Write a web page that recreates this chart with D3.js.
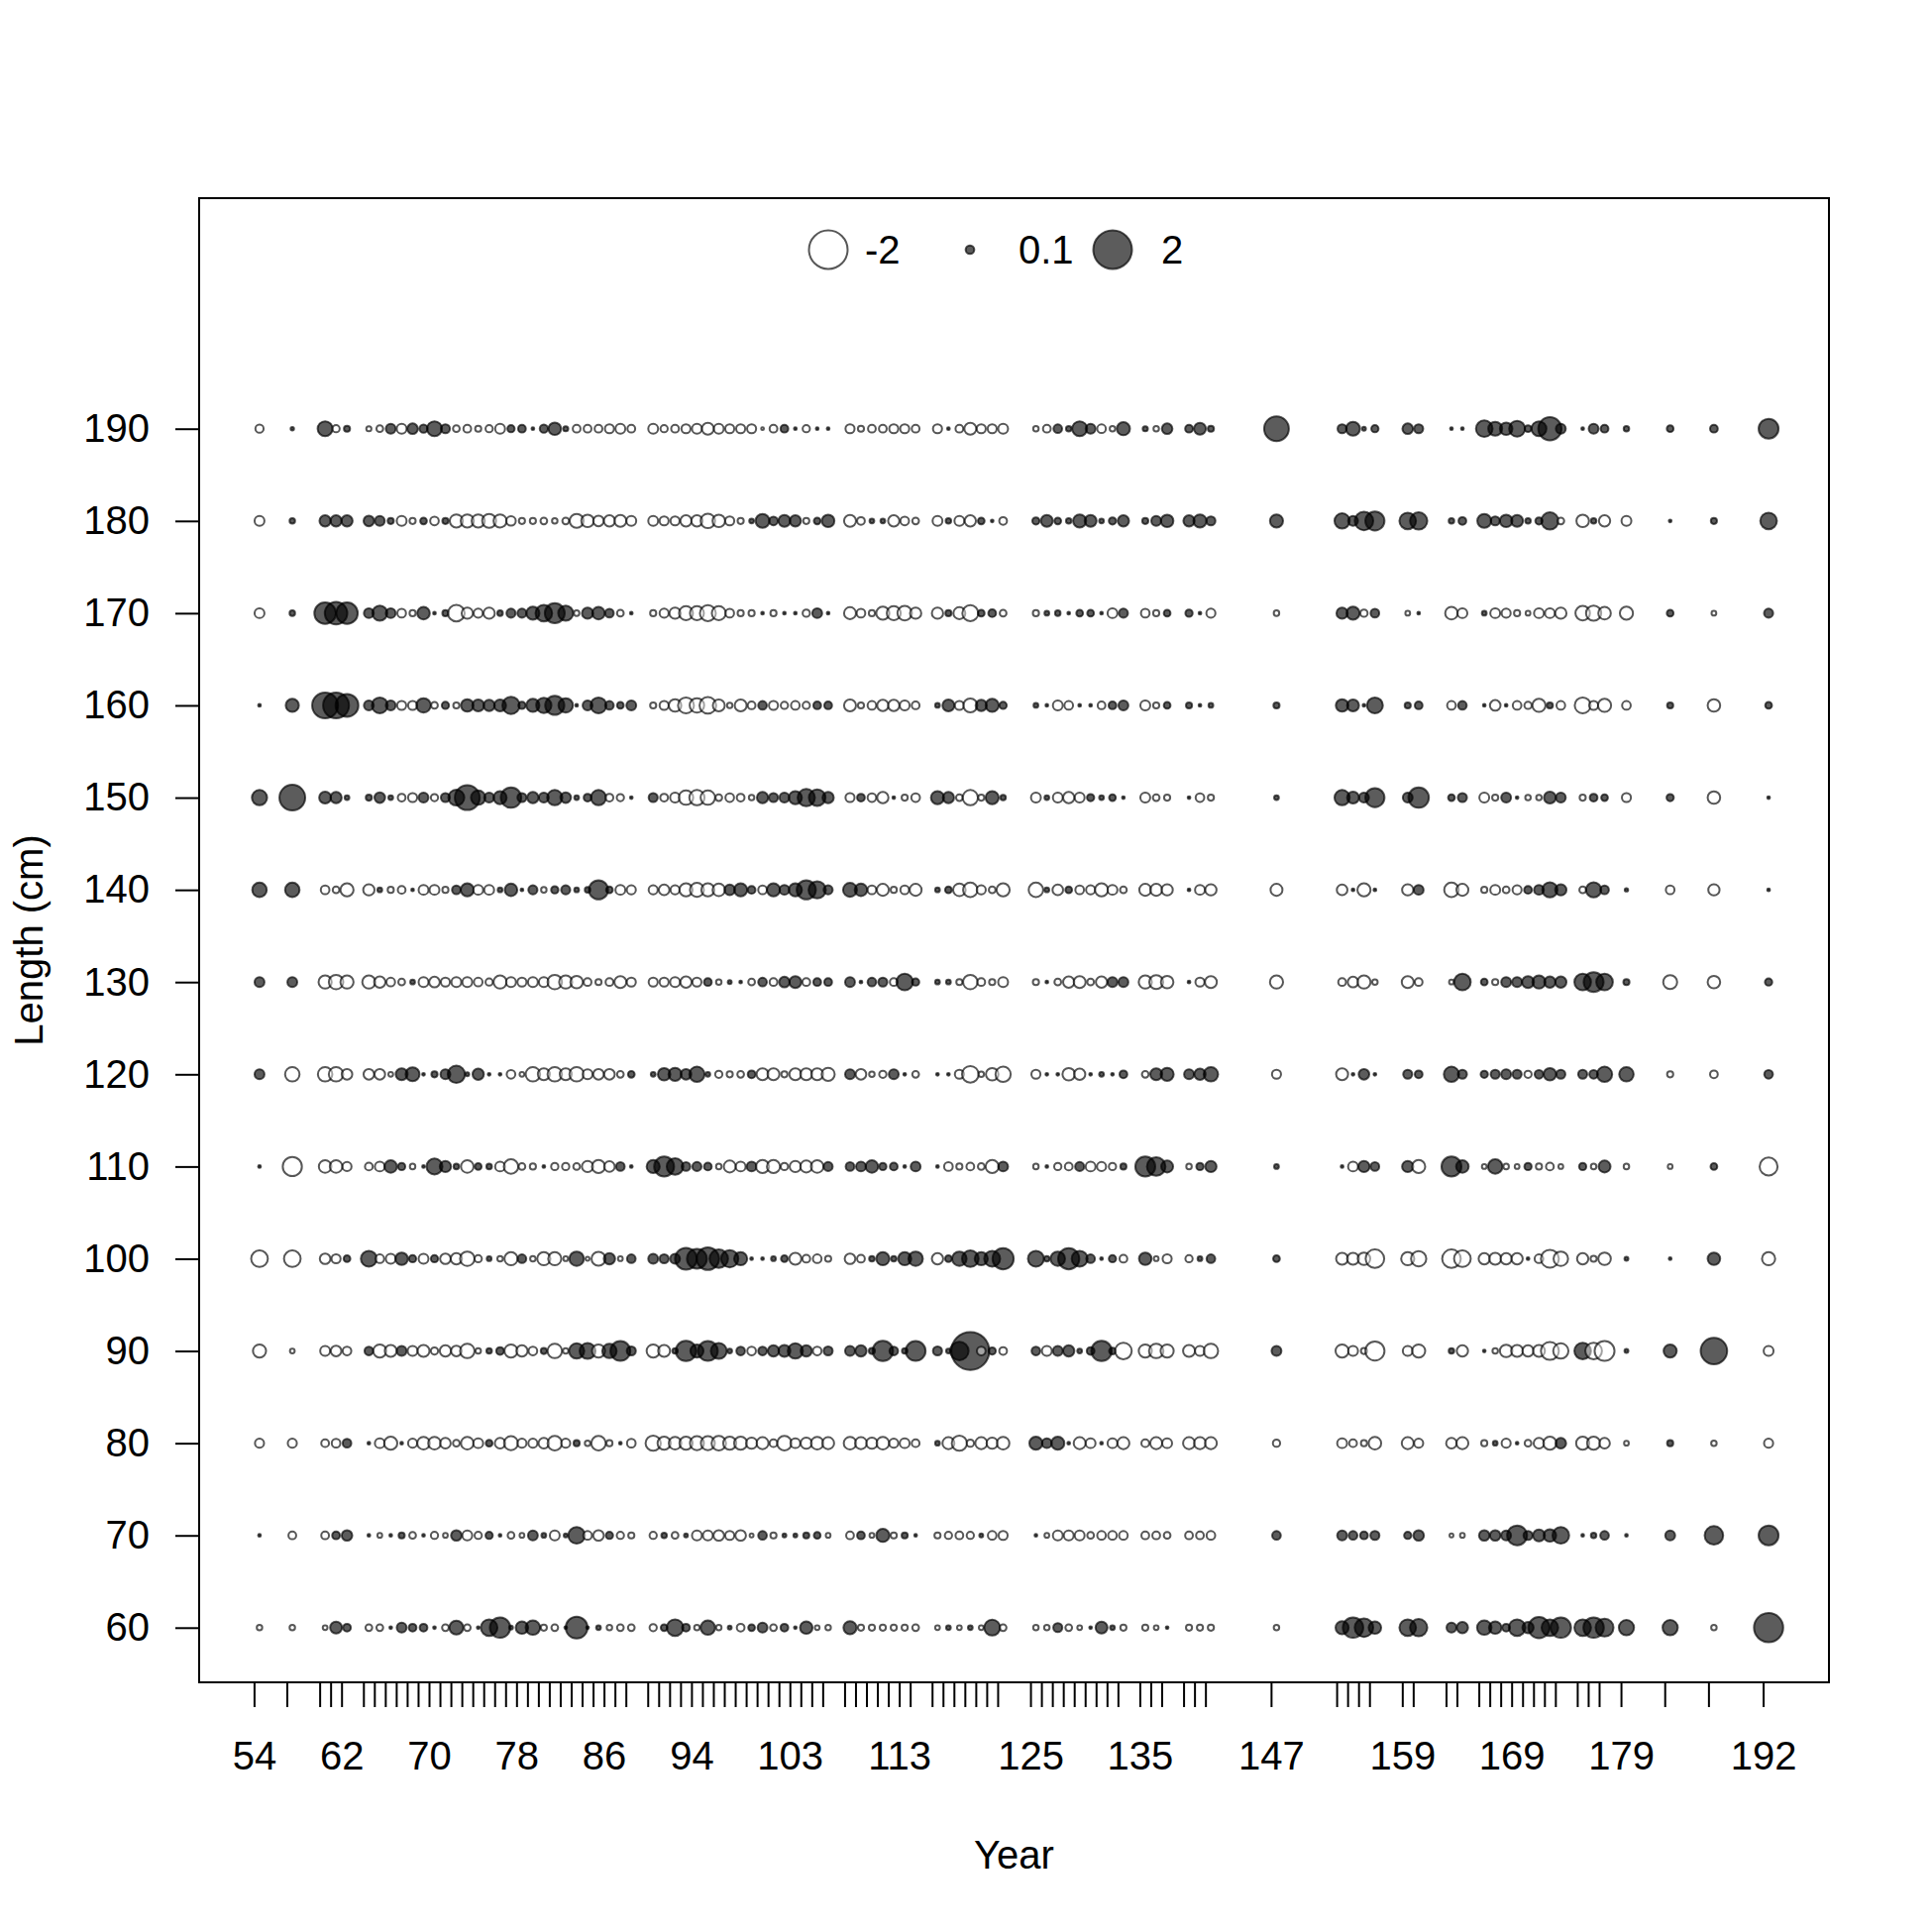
<!DOCTYPE html>
<html><head><meta charset="utf-8">
<script src="https://cdn.jsdelivr.net/npm/d3@7"></script>
<style>
html,body{margin:0;padding:0;background:#fff;}
</style></head><body>
<svg id="chart" width="1950" height="1950"></svg>
<script>
const years = [54,57,60,61,62,
64,65,66,67,68,69,70,71,72,73,74,75,76,77,78,79,80,81,82,83,84,85,86,87,88,
90,91,92,93,94,95,96,97,98,99,100,101,102,103,104,105,106,
108,109,110,111,112,113,114,
116,117,118,119,120,121,122,
125,126,127,128,129,130,131,132,133,
135,136,137,
139,140,141,
147,
153,154,155,156,
159,160,
163,164,
166,167,168,169,170,171,172,173,
175,176,177,
179,183,187,192];
const xLabelYears = [54,62,70,78,86,94,103,113,125,135,147,159,169,179,192];
const lengthBins = [60,70,80,90,100,110,120,130,140,150,160,170,180,190];
const yTickLabels = ["60","70","80","90","100","110","120","130","140","150","160","170","180","190"];

const len190 = [-0.09,0.015,0.3,-0.07,0.05,
-0.035,-0.06,0.13,-0.13,0.15,0.09,0.3,0.11,-0.06,-0.08,-0.05,-0.07,-0.13,0.07,0.08,0.01,0.09,0.21,0.035,-0.08,-0.08,-0.08,-0.11,-0.13,-0.08,
-0.13,-0.07,-0.08,-0.11,-0.13,-0.19,-0.13,-0.11,-0.11,-0.11,-0.01,-0.08,0.08,0.01,-0.07,0.01,0.01,
-0.11,-0.05,-0.08,-0.08,-0.11,-0.11,-0.08,
-0.11,0.01,-0.08,-0.19,-0.11,-0.11,-0.13,
-0.04,-0.08,0.1,0.04,0.3,0.13,-0.1,-0.04,0.23,
0.035,-0.04,0.15,
0.08,0.19,0.05,
0.82,
0.11,0.26,0.02,0.07,
0.15,0.11,
0.01,0.01,
0.37,0.26,0.21,0.34,0.06,0.3,0.72,0.13,
0.01,0.13,0.08,
0.04,0.06,0.08,0.53];

const len180 = [-0.13,0.04,0.17,0.17,0.17,
0.15,0.13,0.05,-0.13,-0.05,0.06,-0.1,0.05,-0.23,-0.23,-0.23,-0.26,-0.23,-0.12,-0.05,-0.05,-0.06,-0.04,-0.06,-0.26,-0.21,-0.15,-0.17,-0.19,-0.13,
-0.13,-0.11,-0.11,-0.17,-0.17,-0.28,-0.21,-0.11,-0.05,0.03,0.26,0.1,0.19,0.17,-0.05,0.06,0.21,
-0.19,-0.08,0.03,0.03,-0.17,-0.1,-0.06,
-0.13,0.04,-0.13,-0.17,0.06,0.01,-0.08,
0.07,0.19,0.06,0.04,0.23,0.19,0.03,0.07,0.17,
0.05,0.13,0.21,
0.17,0.23,0.11,
0.23,
0.31,0.13,0.46,0.49,
0.37,0.4,
0.04,0.08,
0.26,0.11,0.21,0.19,0.04,0.07,0.4,-0.06,
-0.21,0.04,-0.17,
-0.13,0.01,0.05,0.37];

const len170 = [-0.13,0.04,0.62,0.68,0.62,
0.13,0.3,0.13,-0.1,-0.05,0.21,0.01,0.05,-0.37,-0.17,-0.11,-0.17,0.04,0.11,0.11,0.23,0.37,0.53,0.3,-0.04,0.17,0.21,0.1,-0.06,0.01,
-0.05,-0.11,-0.17,-0.26,-0.26,-0.34,-0.26,-0.1,-0.05,-0.05,0.01,-0.05,0.01,0.01,-0.07,0.13,0.01,
-0.19,-0.1,-0.05,-0.23,-0.26,-0.28,-0.17,
-0.17,0.05,-0.19,-0.34,0.06,0.08,-0.06,
-0.05,0.03,0.04,0.01,0.06,0.06,0.01,-0.13,0.11,
-0.1,-0.05,0.06,
0.07,0.01,-0.11,
-0.04,
0.17,0.23,-0.07,0.1,
-0.03,0.01,
-0.21,-0.13,
0.03,-0.13,-0.11,-0.05,-0.03,-0.13,-0.13,-0.17,
-0.28,-0.31,-0.21,
-0.23,0.06,-0.03,0.11];

const len160 = [0.01,0.23,0.9,0.9,0.7,
0.13,0.34,0.13,-0.11,-0.11,0.28,-0.06,0.07,-0.05,0.21,0.19,0.17,0.19,0.4,0.07,0.23,0.31,0.49,0.28,0.01,0.13,0.34,0.1,0.06,0.13,
-0.05,-0.11,-0.21,-0.34,-0.28,-0.37,-0.19,-0.04,-0.19,-0.08,0.1,-0.11,-0.07,-0.1,-0.07,0.08,0.08,
-0.19,-0.05,-0.1,-0.17,-0.17,-0.13,-0.08,
0.03,0.19,-0.11,-0.26,0.17,0.23,0.07,
0.03,0.01,-0.13,-0.1,0.01,0.01,-0.08,0.08,0.13,
-0.13,-0.05,0.06,
0.05,0.01,0.03,
0.05,
0.21,0.19,0.01,0.34,
0.05,0.08,
-0.1,0.1,
0.01,-0.15,0.01,-0.1,-0.07,-0.23,0.05,-0.1,
-0.34,-0.11,-0.23,
-0.1,0.05,-0.21,0.06];

const len150 = [0.31,0.89,0.19,0.17,0.03,
0.05,0.15,0.03,-0.08,-0.11,0.13,-0.07,0.11,0.34,0.83,0.28,0.13,0.23,0.56,0.11,0.17,0.13,0.31,0.15,0.03,0.08,0.31,-0.08,-0.07,0.01,
0.11,-0.08,-0.13,-0.28,-0.31,-0.28,-0.06,-0.1,-0.08,-0.04,0.17,0.11,0.13,0.23,0.4,0.37,0.17,
-0.11,0.08,-0.1,-0.17,0.01,-0.05,-0.1,
0.23,0.17,-0.06,-0.31,-0.05,0.23,0.04,
-0.13,0.03,-0.13,-0.17,-0.13,0.07,0.03,0.06,0.01,
-0.13,-0.06,-0.05,
0.01,-0.1,-0.05,
0.03,
0.31,0.19,0.13,0.49,
0.13,0.56,
0.06,0.11,
-0.13,-0.05,0.13,0.01,-0.04,-0.04,0.19,0.13,
-0.05,0.08,0.06,
-0.11,0.07,-0.21,0.01];

const len140 = [0.28,0.28,-0.1,-0.06,-0.23,
-0.17,0.03,-0.05,-0.08,0.01,-0.13,-0.13,-0.05,0.1,0.23,-0.13,-0.13,0.03,0.21,0.01,0.11,-0.04,0.07,0.11,0.03,0.04,0.49,0.06,-0.13,-0.11,
-0.11,-0.15,-0.11,-0.23,-0.26,-0.23,-0.21,0.15,0.23,0.08,-0.1,0.23,0.13,0.23,0.49,0.4,0.11,
0.26,0.21,-0.1,-0.19,-0.05,-0.1,-0.19,
0.03,0.06,-0.21,-0.28,-0.11,-0.06,-0.23,
-0.28,0.03,-0.15,0.06,-0.1,-0.11,-0.23,-0.13,-0.06,
-0.19,-0.19,-0.17,
0.01,-0.13,-0.17,
-0.19,
-0.15,0.01,-0.23,0.01,
-0.17,0.13,
-0.28,-0.19,
-0.05,-0.13,-0.06,-0.11,0.08,0.13,0.31,0.17,
-0.06,0.31,0.1,
0.015,-0.1,-0.17,0.01];

const len130 = [0.13,0.13,-0.23,-0.28,-0.23,
-0.23,-0.17,-0.1,-0.06,0.03,-0.13,-0.15,-0.11,-0.13,-0.13,-0.1,-0.07,-0.23,-0.13,-0.11,-0.13,-0.13,-0.28,-0.23,-0.21,-0.08,-0.05,-0.08,-0.19,-0.11,
-0.11,-0.11,-0.13,-0.17,-0.11,0.08,-0.04,0.02,0.01,-0.06,0.1,-0.08,0.15,0.19,-0.08,0.08,0.08,
0.13,0.01,0.1,0.11,-0.08,0.37,0.07,
0.03,0.03,-0.05,-0.28,-0.08,-0.05,-0.13,
-0.05,0.01,-0.06,-0.17,-0.19,-0.06,-0.17,0.13,0.13,
-0.23,-0.26,-0.21,
0.01,-0.11,-0.19,
-0.23,
-0.08,-0.15,-0.23,-0.04,
-0.19,-0.08,
-0.03,0.37,
0.06,-0.05,0.13,0.13,0.19,0.23,0.17,0.17,
0.37,0.53,0.37,
0.05,-0.26,-0.21,0.07];

const len120 = [0.13,-0.28,-0.28,-0.28,-0.15,
-0.15,-0.15,-0.03,0.19,0.26,0.01,0.05,0.13,0.4,0.02,0.17,0.01,0.01,-0.1,-0.03,-0.28,-0.19,-0.28,-0.19,-0.28,-0.13,-0.15,-0.15,-0.06,0.06,
0.03,0.21,0.23,0.15,0.31,0.03,-0.07,-0.05,-0.06,0.08,-0.19,-0.19,-0.05,-0.19,-0.19,-0.19,-0.23,
0.13,-0.15,-0.04,-0.07,0.13,0.01,-0.06,
0.01,0.01,-0.11,-0.37,-0.04,-0.21,-0.31,
-0.11,0.01,0.01,-0.21,-0.17,0.01,0.03,0.01,0.08,
-0.06,0.19,0.23,
0.13,0.17,0.28,
-0.11,
-0.19,0.01,0.15,0.01,
0.11,0.08,
0.31,0.11,
0.07,0.11,0.13,0.11,-0.07,0.1,0.21,0.11,
0.11,0.1,0.31,
0.28,-0.05,-0.08,0.1];

const len110 = [0.01,-0.49,-0.21,-0.21,-0.11,
-0.08,-0.13,0.21,0.07,-0.04,0.01,0.34,0.17,0.04,-0.21,0.06,0.04,-0.13,-0.28,-0.06,-0.05,0.01,-0.07,-0.07,-0.06,-0.17,-0.23,-0.15,0.1,0.01,
0.23,0.53,0.37,0.1,0.11,0.08,-0.04,-0.19,-0.13,0.13,-0.23,-0.23,-0.07,-0.17,-0.19,-0.21,0.11,
0.1,0.13,0.21,0.07,0.08,0.01,0.13,
0.01,-0.1,-0.05,-0.08,-0.06,-0.23,0.13,
-0.04,0.01,-0.07,-0.08,0.11,-0.13,-0.11,-0.07,0.05,
0.53,0.46,0.19,
-0.04,0.07,0.17,
0.03,
0.01,-0.13,0.17,0.1,
0.17,-0.23,
0.53,0.21,
-0.03,0.28,-0.04,-0.03,0.07,-0.05,-0.08,-0.03,
0.07,-0.04,0.19,
-0.04,-0.03,0.06,-0.43];

const len100 = [-0.37,-0.37,-0.15,-0.11,0.06,
0.34,-0.1,-0.13,0.21,0.07,-0.13,0.07,-0.15,-0.17,-0.28,-0.07,0.03,-0.04,-0.23,0.1,-0.04,-0.23,-0.23,-0.03,0.28,-0.02,-0.26,0.17,-0.03,0.1,
0.13,0.11,0.13,0.64,0.53,0.68,0.46,0.4,0.23,0.01,0.01,0.03,0.06,-0.19,-0.08,-0.1,-0.05,
-0.15,-0.08,0.04,0.23,0.04,0.23,0.28,
-0.17,0.06,0.28,0.37,0.23,0.34,0.6,
0.34,0.04,0.28,0.6,0.34,0.1,0.01,0.07,-0.08,
0.21,-0.03,-0.11,
-0.07,0.03,0.1,
0.06,
-0.19,-0.19,-0.21,-0.46,
-0.23,-0.31,
-0.46,-0.37,
-0.17,-0.19,-0.17,-0.17,0.01,-0.1,-0.43,-0.28,
-0.17,-0.05,-0.21,
0.02,0.01,0.21,-0.23];

const len90 = [-0.23,-0.03,-0.13,-0.15,-0.1,
0.1,-0.23,-0.19,0.13,-0.13,-0.19,-0.07,-0.17,-0.15,-0.28,-0.04,0.04,0.08,-0.23,-0.17,-0.1,0.05,-0.28,-0.04,0.31,0.34,-0.23,0.28,0.53,0.11,
-0.23,-0.19,0.04,0.56,0.23,0.53,0.34,0.03,0.1,-0.1,0.1,0.17,0.19,0.31,0.17,-0.1,0.11,
0.13,0.17,0.05,0.56,0.1,0.04,0.53,
0.11,0.03,0.46,1.93,-0.1,0.07,-0.08,
0.1,-0.13,0.13,0.17,0.03,0.08,0.56,0.06,-0.37,
-0.23,-0.28,-0.23,
-0.19,-0.13,-0.28,
0.13,
-0.23,-0.13,-0.05,-0.49,
-0.13,-0.23,
0.04,-0.17,
0.01,-0.04,-0.21,-0.19,-0.17,-0.19,-0.43,-0.31,
0.37,-0.37,-0.53,
0.02,0.23,0.94,-0.13];

const len80 = [-0.11,-0.11,-0.08,-0.1,0.1,
0.01,-0.13,-0.23,0.01,-0.11,-0.21,-0.21,-0.15,-0.06,-0.21,-0.13,0.06,-0.15,-0.26,-0.11,-0.11,-0.15,-0.28,-0.11,0.05,-0.04,-0.28,-0.05,0.01,-0.1,
-0.31,-0.23,-0.21,-0.23,-0.26,-0.26,-0.28,-0.23,-0.23,-0.17,-0.19,-0.08,-0.28,-0.13,-0.17,-0.21,-0.19,
-0.21,-0.19,-0.17,-0.21,-0.11,-0.13,-0.08,
0.03,-0.19,-0.31,-0.07,-0.19,-0.17,-0.21,
0.23,0.13,0.23,0.01,-0.19,-0.13,0.01,-0.13,-0.19,
-0.08,-0.19,-0.13,
-0.19,-0.19,-0.19,
-0.07,
-0.13,-0.08,-0.05,-0.21,
-0.19,-0.11,
-0.15,-0.19,
-0.05,0.03,-0.11,0.01,-0.06,-0.15,-0.23,0.15,
-0.23,-0.23,-0.15,
-0.03,0.05,-0.04,-0.11];

const len70 = [0.01,-0.08,-0.08,0.08,0.15,
0.01,-0.03,0.01,0.05,-0.06,0.01,-0.07,-0.03,0.15,-0.13,-0.07,0.07,0.01,-0.06,-0.03,0.13,0.03,-0.13,0.02,0.37,-0.1,-0.15,0.07,-0.07,-0.05,
-0.07,0.04,-0.06,0.02,-0.13,-0.13,-0.15,-0.11,-0.15,-0.02,0.1,-0.05,0.02,0.02,0.05,0.06,-0.03,
-0.08,0.08,-0.03,0.23,-0.05,0.05,0.01,
-0.05,-0.07,-0.08,-0.07,0.02,-0.1,-0.11,
0.01,-0.03,-0.13,-0.13,-0.13,-0.06,-0.1,-0.1,-0.1,
-0.08,-0.08,-0.06,
-0.08,-0.08,-0.1,
0.1,
0.13,0.1,0.08,0.11,
0.07,0.15,
-0.02,-0.03,
0.15,0.15,0.13,0.53,0.11,0.19,0.21,0.37,
0.01,0.04,0.1,
0.01,0.13,0.46,0.53];

const len60 = [-0.04,-0.04,-0.03,0.19,0.08,
-0.06,-0.06,0.01,0.13,0.08,0.08,0.01,-0.06,0.26,-0.06,0.01,0.37,0.56,0.02,0.21,0.28,-0.05,-0.06,0.01,0.64,0.01,0.03,-0.04,-0.06,-0.06,
-0.07,0.06,0.37,0.08,-0.04,0.28,-0.04,0.02,-0.08,0.06,0.13,-0.06,0.08,0.01,0.21,-0.03,-0.04,
0.23,-0.05,-0.05,-0.05,-0.05,-0.05,-0.06,
-0.03,0.03,-0.03,0.03,-0.03,0.34,-0.06,
-0.04,-0.04,0.11,-0.06,-0.03,0.01,0.19,0.03,-0.05,
-0.05,-0.03,0.01,
-0.05,-0.05,-0.05,
-0.04,
0.23,0.56,0.46,0.21,
0.37,0.4,
0.13,0.17,
0.28,0.21,0.08,0.37,0.17,0.6,0.37,0.56,
0.37,0.56,0.43,
0.31,0.31,-0.04,1.14];

const legendValues = [-2, 0.1, 2];
const legendLabels = ["-2", "0.1", "2"];

const residualRows = [len60,len70,len80,len90,len100,len110,len120,len130,len140,len150,len160,len170,len180,len190];
residualRows.forEach((row,i)=>{ if(row.length!==years.length) throw new Error("row "+lengthBins[i]+" has "+row.length); });

const FONT = '"Liberation Sans", Arial, Helvetica, sans-serif';
const box = {left:201, right:1846, top:200, bottom:1698};
const svg = d3.select("#chart");
svg.append("rect").attr("width",1950).attr("height",1950).attr("fill","#fff");

// bubbles sit at mid-season (year + 0.5); axis ticks at the integer years
const SEASON_OFFSET = 0.5;
const x = d3.scaleLinear().domain([48.98, 198.02]).range([box.left, box.right]);
const y = d3.scaleLinear().domain([54.07, 215.0]).range([box.bottom, box.top]);
const r = d3.scaleSqrt().domain([0, 2]).range([0, 19.5]);

const POS_FILL = "rgba(0,0,0,0.64)";
const NEG_FILL = "rgba(255,255,255,0.45)";
const STROKE = "rgba(0,0,0,0.66)";

// build table: year-major order (drawing order)
const points = [];
years.forEach((yr, i) => {
  lengthBins.forEach((len, j) => {
    points.push({year: yr, len: len, v: residualRows[j][i]});
  });
});

svg.append("g").selectAll("circle").data(points).join("circle")
  .attr("cx", d => x(d.year + SEASON_OFFSET))
  .attr("cy", d => y(d.len))
  .attr("r", d => r(Math.abs(d.v)))
  .attr("fill", d => d.v > 0 ? POS_FILL : NEG_FILL)
  .attr("stroke", STROKE)
  .attr("stroke-width", 2);

// box
svg.append("rect").attr("x", box.left).attr("y", box.top)
  .attr("width", box.right - box.left).attr("height", box.bottom - box.top)
  .attr("fill", "none").attr("stroke", "#000").attr("stroke-width", 2);

// x axis
const xAxis = d3.axisBottom(x).tickValues(years).tickSize(25).tickPadding(35)
  .tickFormat(d => xLabelYears.includes(d) ? String(d) : "");
svg.append("g").attr("transform", `translate(0,${box.bottom})`).call(xAxis)
  .call(g => g.select(".domain").remove())
  .call(g => g.selectAll(".tick line").attr("stroke", "#000").attr("stroke-width", 2))
  .call(g => g.selectAll(".tick text").attr("fill", "#000"))
  .attr("font-size", 40).attr("font-family", FONT);

// y axis
const yAxis = d3.axisLeft(y).tickValues(lengthBins).tickSize(24).tickPadding(26)
  .tickFormat((d, i) => yTickLabels[i]);
svg.append("g").attr("transform", `translate(${box.left},0)`).call(yAxis)
  .call(g => g.select(".domain").remove())
  .call(g => g.selectAll(".tick line").attr("stroke", "#000").attr("stroke-width", 2))
  .call(g => g.selectAll(".tick text").attr("fill", "#000"))
  .attr("font-size", 40).attr("font-family", FONT);

// axis titles
svg.append("text").attr("x", (box.left + box.right) / 2).attr("y", 1886)
  .attr("text-anchor", "middle").attr("font-size", 40).attr("font-family", FONT)
  .text("Year");
svg.append("text").attr("transform", `translate(43,${(box.top + box.bottom) / 2}) rotate(-90)`)
  .attr("text-anchor", "middle").attr("font-size", 40).attr("font-family", FONT)
  .text("Length (cm)");

// legend
const legendCx = [836, 979, 1123];
const legendTx = [873, 1028, 1172];
const legendY = 252;
const lg = svg.append("g");
lg.selectAll("circle").data(legendValues).join("circle")
  .attr("cx", (d, i) => legendCx[i]).attr("cy", legendY)
  .attr("r", d => r(Math.abs(d)))
  .attr("fill", d => d > 0 ? POS_FILL : NEG_FILL)
  .attr("stroke", STROKE).attr("stroke-width", 2);
lg.selectAll("text").data(legendLabels).join("text")
  .attr("x", (d, i) => legendTx[i]).attr("y", legendY + 14)
  .attr("font-size", 40).attr("font-family", FONT)
  .text(d => d);
</script>
</body></html>
